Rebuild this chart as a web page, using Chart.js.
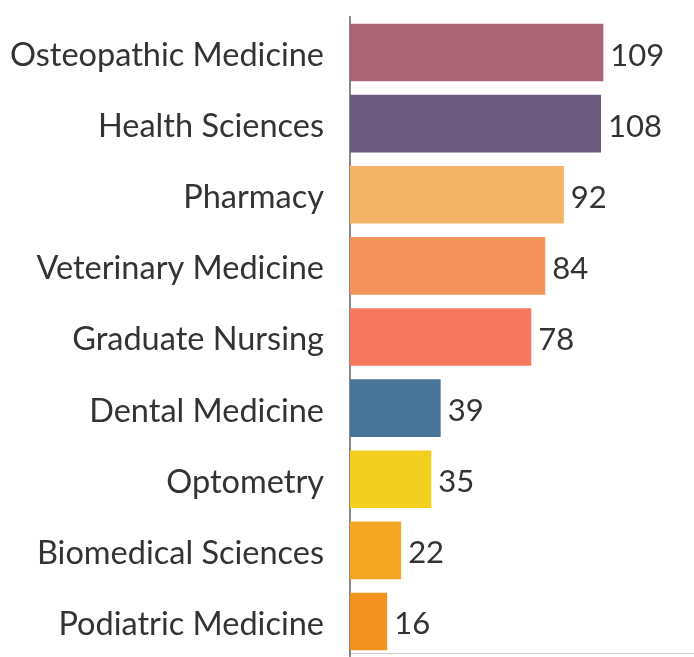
<!DOCTYPE html>
<html>
<head>
<meta charset="utf-8">
<script src="https://cdn.jsdelivr.net/npm/chart.js@4"></script>
<style>
  html, body { margin: 0; padding: 0; background: #fff; }
  #wrap { width: 694px; height: 657px; }
</style>
</head>
<body>
<div id="wrap"><canvas id="programs"></canvas></div>
<script>
const categories = [
  "Osteopathic Medicine",
  "Health Sciences",
  "Pharmacy",
  "Veterinary Medicine",
  "Graduate Nursing",
  "Dental Medicine",
  "Optometry",
  "Biomedical Sciences",
  "Podiatric Medicine",
];
const counts = [109, 108, 92, 84, 78, 39, 35, 22, 16];
const barColors = [
  "#ab6676",
  "#6b5a7d",
  "#f3b468",
  "#f4935b",
  "#f5785f",
  "#487497",
  "#f3d01f",
  "#f4a623",
  "#f2921f",
];

const valueLabels = {
  id: "valueLabels",
  afterDatasetsDraw(chart) {
    const ctx = chart.ctx;
    const meta = chart.getDatasetMeta(0);
    ctx.save();
    ctx.font = "31px Lato";
    ctx.fillStyle = "#333";
    ctx.textAlign = "left";
    ctx.textBaseline = "middle";
    meta.data.forEach((bar, i) => {
      ctx.fillText(String(counts[i]), bar.x + 7, bar.y + 3);
    });
    ctx.restore();
  },
};

const ctx = document.getElementById("programs");
new Chart(ctx, {
  type: "bar",
  data: {
    labels: categories,
    datasets: [
      {
        data: counts,
        backgroundColor: barColors,
        borderWidth: 0,
        barPercentage: 0.9,
        categoryPercentage: 0.9,
      },
    ],
  },
  options: {
    indexAxis: "y",
    responsive: true,
    maintainAspectRatio: false,
    animation: false,
    layout: {
      padding: { top: 17, bottom: -1, left: 0, right: 0 },
    },
    plugins: {
      legend: { display: false },
      tooltip: { enabled: false },
    },
    scales: {
      x: {
        min: 0,
        max: 148,
        position: { y: 8.45 },
        ticks: { display: false },
        grid: { display: false, drawTicks: false },
        border: { color: "#cccccc", width: 1 },
        afterFit: (s) => {
          s.height = 0;
          s.paddingLeft = 0;
          s.paddingRight = 0;
        },
      },
      y: {
        ticks: {
          color: "#333",
          font: { family: "Lato", size: 32.5 },
          padding: 26,
          labelOffset: 3,
        },
        grid: { display: false, drawTicks: false },
        border: { color: "#888888", width: 2 },
        afterFit: (s) => {
          s.width = 350;
          s.paddingTop = 0;
          s.paddingBottom = 0;
        },
      },
    },
  },
  plugins: [valueLabels],
});
</script>
</body>
</html>
